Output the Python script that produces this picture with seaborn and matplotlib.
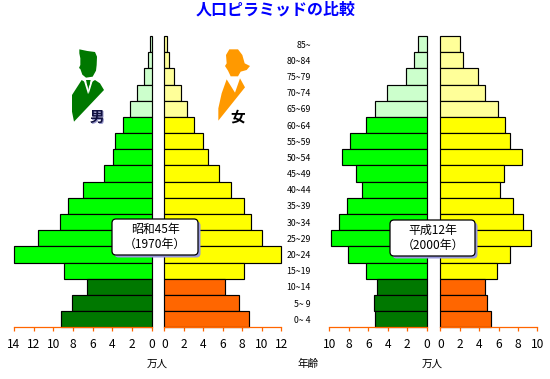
import matplotlib
matplotlib.use('Agg')
import pandas as pd
import matplotlib.pyplot as plt
import seaborn as sns
from matplotlib.patches import FancyBboxPatch, Polygon

sns.set_theme(style='white')
plt.rcParams['font.family'] = ['Noto Sans CJK JP', 'DejaVu Sans']

ages = ['85~', '80~84', '75~79', '70~74', '65~69', '60~64', '55~59', '50~54', '45~49',
        '40~44', '35~39', '30~34', '25~29', '20~24', '15~19', '10~14', '5~ 9', '0~ 4']
groups = ['old'] * 5 + ['work'] * 10 + ['young'] * 3

male_1970 = [0.2, 0.34, 0.75, 1.46, 2.17, 2.88, 3.7, 3.9, 4.9,
             6.95, 8.47, 9.29, 11.53, 14.0, 8.88, 6.54, 8.07, 9.19]
female_1970 = [0.24, 0.51, 1.03, 1.68, 2.36, 3.08, 4.0, 4.51, 5.64,
               6.87, 8.2, 8.92, 10.05, 12.0, 8.2, 6.26, 7.69, 8.72]
male_2000 = [0.86, 1.27, 2.09, 4.04, 5.27, 6.2, 7.84, 8.66, 7.23,
             6.61, 8.15, 8.97, 9.79, 8.05, 6.2, 5.07, 5.38, 5.27]
female_2000 = [2.06, 2.37, 3.92, 4.64, 5.98, 6.7, 7.22, 8.45, 6.6,
               6.19, 7.53, 8.56, 9.38, 7.22, 5.88, 4.64, 4.85, 5.26]

male_colors = {'old': '#CCFFCC', 'work': '#00FF00', 'young': '#007800'}
female_colors = {'old': '#FFFF99', 'work': '#FFFF00', 'young': '#FF6600'}
AXIS_COLOR = '#FF6600'

W, H = 550, 379
fig = plt.figure(figsize=(5.5, 3.79), dpi=100, facecolor='white')


def pyramid_side(values, palette, left, right, xlim, ticks):
    # left/right are pixel positions of the axis ends
    ax = fig.add_axes([left / W, 1 - 327.3 / H, (right - left) / W, (327.3 - 36) / H])
    df = pd.DataFrame({'age': ages, 'value': values, 'group': groups})
    sns.barplot(data=df, y='age', x='value', hue='group', palette=palette, dodge=False,
                width=1, legend=False, saturation=1, edgecolor='black', linewidth=0.85,
                clip_on=False, ax=ax)
    ax.set_xlim(xlim)
    ax.set_ylim(len(ages) - 0.5, -0.5)
    ax.set_xticks(ticks)
    ax.set_xlabel('')
    ax.set_ylabel('')
    ax.set_yticks([])
    ax.patch.set_alpha(0)
    for s in ['top', 'left', 'right']:
        ax.spines[s].set_visible(False)
    ax.spines['bottom'].set_color(AXIS_COLOR)
    ax.spines['bottom'].set_linewidth(0.9)
    ax.tick_params(axis='x', bottom=True, length=3.2, width=0.9, color=AXIS_COLOR,
                   pad=4.5, labelsize=8.6, labelcolor='black')
    return ax


pyramid_side(male_1970, male_colors, 14.0, 151.7, (14, 0), [14, 12, 10, 8, 6, 4, 2, 0])
pyramid_side(female_1970, female_colors, 164.3, 281.3, (0, 12), [0, 2, 4, 6, 8, 10, 12])
ax_age = pyramid_side(male_2000, male_colors, 329.3, 426.7, (10, 0), [10, 8, 6, 4, 2, 0])
pyramid_side(female_2000, female_colors, 440.3, 537.3, (0, 10), [0, 2, 4, 6, 8, 10])

# age labels sit left of the 2000 male side
ax_age.set_yticks(range(len(ages)))
ax_age.set_yticklabels(ages)
ax_age.tick_params(axis='y', left=False, pad=7.2, labelsize=6.3, labelcolor='black')

# overlay in pixel coordinates for icons, callouts and captions
ov = fig.add_axes([0, 0, 1, 1])
ov.set_xlim(0, W)
ov.set_ylim(H, 0)
ov.axis('off')
ov.patch.set_alpha(0)


def shape(points, color):
    # icon outlines were traced at 3x
    pts = [(x / 3, y / 3) for x, y in points]
    ov.add_patch(Polygon(pts, closed=True, facecolor=color, edgecolor='none'))


# male icon
GREEN = '#007800'
shape([(238, 148), (262, 153), (285, 156), (291, 170), (290, 195), (288, 212), (278, 230),
       (258, 233), (247, 224), (241, 207), (237, 204), (241, 195), (241, 175), (238, 160)], GREEN)
shape([(216, 285), (245, 240), (258, 248), (272, 248), (285, 240), (300, 250), (312, 270),
       (222, 365), (216, 335)], GREEN)
shape([(251, 240), (258, 240), (266, 272), (264, 282)], 'white')
shape([(272, 240), (279, 240), (266, 282), (264, 272)], 'white')
shape([(258, 240), (272, 240), (268, 256), (262, 256)], GREEN)
# female icon
ORANGE = '#FF9900'
shape([(688, 148), (714, 148), (727, 165), (734, 190), (750, 198), (740, 210), (722, 215),
       (714, 229), (692, 229), (684, 212), (675, 198), (680, 190), (678, 165)], ORANGE)
shape([(680, 238), (705, 278), (720, 235), (735, 262), (655, 362), (655, 325), (665, 280)],
      ORANGE)

ov.text(97.6, 117.6, '男', color='#9999CC', fontsize=10.5, fontweight='bold', ha='center', va='center')
ov.text(97, 117, '男', color='#101040', fontsize=10.5, fontweight='bold', ha='center', va='center')
ov.text(238, 116.5, '女', color='black', fontsize=10.5, fontweight='bold', ha='center', va='center')


def callout(x0, x1, y0, y1, line1, line2):
    for off, fc, ec in [(2.5, '#9999DD', 'none'), (0, 'white', 'black')]:
        ov.add_patch(FancyBboxPatch((x0 + 4 + off, y0 + 4 + off), x1 - x0 - 8, y1 - y0 - 8,
                                    boxstyle='round,pad=4,rounding_size=4', facecolor=fc,
                                    edgecolor=ec, linewidth=0.9))
    xc = (x0 + x1) / 2
    ov.text(xc, y0 + 10, line1, fontsize=8.6, ha='center', va='center', color='black')
    ov.text(xc, y0 + 25, line2, fontsize=8.6, ha='center', va='center', color='black')


callout(112, 198, 219, 255, '昭和45年', '（1970年）')
callout(390, 475, 220, 256, '平成12年', '（2000年）')

ov.text(276, 10, '人口ピラミッドの比較', color='#0000FF', fontsize=11.5, fontweight='bold',
        ha='center', va='center')
ov.text(157, 364, '万人', fontsize=7.6, ha='center', va='center', color='black')
ov.text(308, 363.5, '年齢', fontsize=7.6, ha='center', va='center', color='black')
ov.text(432, 364, '万人', fontsize=7.6, ha='center', va='center', color='black')

plt.savefig('out.png', dpi=100, facecolor='white')
